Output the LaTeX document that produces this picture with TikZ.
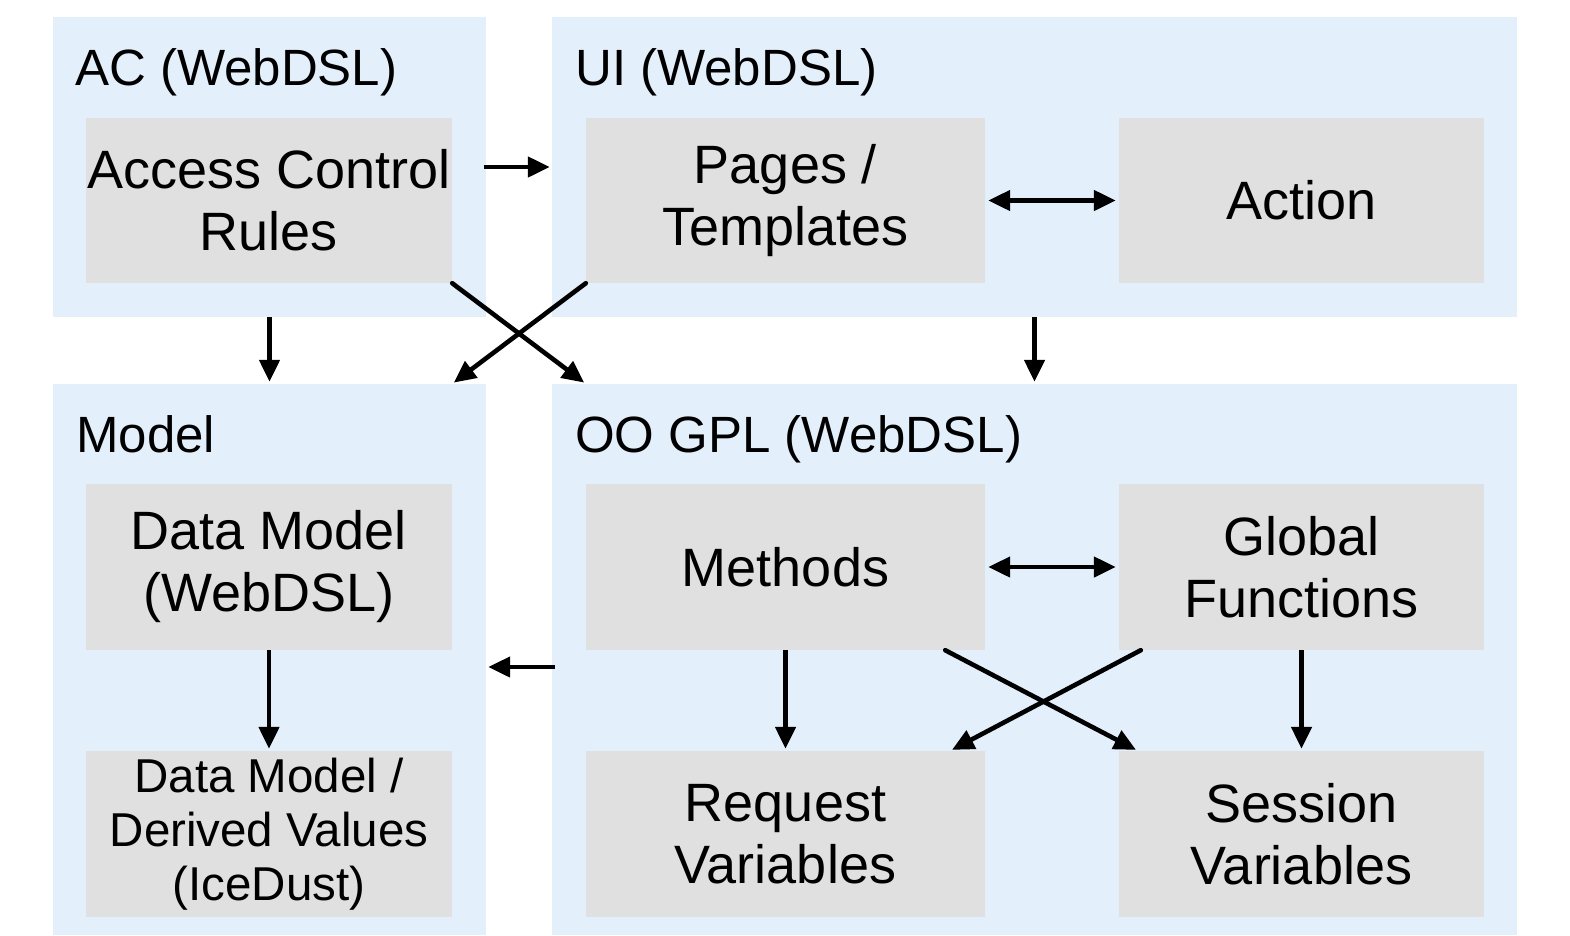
\documentclass[tikz,border=0pt]{standalone}
\usepackage{fontspec}
\setmainfont{Liberation Sans}
\usetikzlibrary{arrows.meta}
\definecolor{grpblue}{HTML}{E3EFFB}
\definecolor{boxgray}{HTML}{E0E0E0}
\tikzset{
  grp/.style={fill=grpblue, draw=none, inner sep=0pt},
  gbox/.style={fill=boxgray, draw=none, inner sep=0pt, align=center,
    font=\fontsize{54}{62}\selectfont},
  title/.style={anchor=base west, inner sep=0pt, font=\fontsize{51}{62}\selectfont},
  tip/.style={},
  arr/.style={line width=4.6pt, -{Triangle[length=22pt,width=20pt]}, shorten >=2pt},
  biarr/.style={line width=4.6pt, {Triangle[length=22pt,width=20pt]}-{Triangle[length=22pt,width=20pt]}, shorten >=3pt, shorten <=3pt}
}
\begin{document}
\begin{tikzpicture}[x=1pt, y=-1pt]
\useasboundingbox (0,0) rectangle (1570,935);

% layer groups
\node[grp, minimum width=433pt, minimum height=300pt] (ac) at (269.5,167) {};
\node[grp, minimum width=965pt, minimum height=300pt] (ui) at (1034.5,167) {};
\node[grp, minimum width=433pt, minimum height=551pt] (model) at (269.5,659.5) {};
\node[grp, minimum width=965pt, minimum height=551pt] (oo) at (1034.5,659.5) {};

\node[title] (tac) at (75,85) {AC (WebDSL)};
\node[title] (tui) at (575,85) {UI (WebDSL)};
\node[title] (tmodel) at (76,452) {Model};
\node[title] (too) at (575,452) {OO GPL (WebDSL)};

% components
\node[gbox, minimum width=366pt, minimum height=165pt] (acr) at (269,200.5) {Access Control\\Rules};
\node[gbox, minimum width=399pt, minimum height=165pt] (pages) at (785.5,200.5) {Pages /\\Templates};
\node[gbox, minimum width=365pt, minimum height=165pt] (action) at (1301.5,200.5) {Action};
\node[gbox, minimum width=366pt, minimum height=166pt] (dm) at (269,567) {Data Model\\(WebDSL)};
\node[gbox, minimum width=399pt, minimum height=166pt] (methods) at (785.5,567) {Methods};
\node[gbox, minimum width=365pt, minimum height=166pt] (global) at (1301.5,567) {Global\\Functions};
\node[gbox, minimum width=366pt, minimum height=166pt, font=\fontsize{47.5}{54}\selectfont] (dv) at (269,834) {Data Model /\\Derived Values\\(IceDust)};
\node[gbox, minimum width=399pt, minimum height=166pt] (request) at (785.5,834) {Request\\Variables};
\node[gbox, minimum width=365pt, minimum height=166pt] (session) at (1301.5,834) {Session\\Variables};

% dependencies
\draw[arr] ([xshift=-2pt]ac.east) -- (ui.west);
\draw[biarr] (pages.east) -- (action.west);
\draw[arr] (ac.south) -- (model.north);
\draw[arr] (ui.south) -- (oo.north);
\draw[arr, line cap=round] (acr.south east) -- (pages.west |- oo.north);
\draw[arr, line cap=round] (pages.south west) -- (acr.east |- model.north);
\draw[biarr] (methods.east) -- (global.west);
\draw[arr] ([yshift=-7.5pt,xshift=3pt]oo.west) -- ([yshift=-7.5pt]model.east);
\draw[arr] (dm.south) -- (dv.north);
\draw[arr] (methods.south) -- (request.north);
\draw[arr] (global.south) -- (session.north);
\draw[arr, line cap=round] ([xshift=-40pt]methods.south east) -- ([xshift=19pt]session.north west);
\draw[arr, line cap=round] ([xshift=22pt]global.south west) -- ([xshift=-35pt]request.north east);
\end{tikzpicture}
\end{document}
